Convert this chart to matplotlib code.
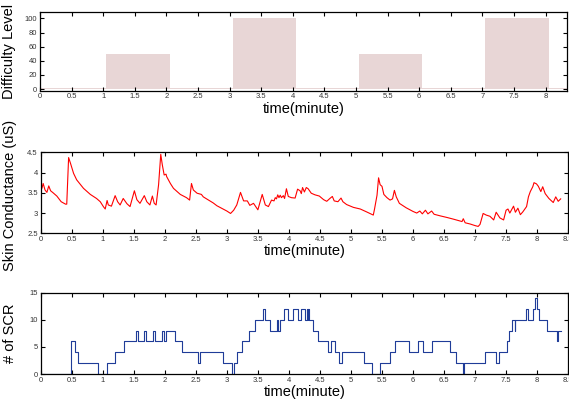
import matplotlib
matplotlib.use("Agg")
import matplotlib.pyplot as plt

plt.rcParams['font.family'] = ['Liberation Sans', 'DejaVu Sans']

# difficulty level (step edges in minutes, level per segment)
diff_edges = [0, 1.05, 2.05, 3.05, 4.05, 5.05, 6.05, 7.05, 8.05, 8.34]
diff_levels = [2, 50, 2, 100, 2, 50, 2, 100, 2]

# skin conductance (uS)
sc_t = [0.00, 0.02, 0.04, 0.07, 0.10, 0.13, 0.16, 0.20, 0.26, 0.33, 0.40, 0.42, 0.43, 0.45,
        0.48, 0.53, 0.58, 0.69, 0.80, 0.90, 0.96, 1.01, 1.04, 1.07, 1.09, 1.14, 1.20, 1.24,
        1.28, 1.33, 1.39, 1.44, 1.51, 1.55, 1.60, 1.67, 1.71, 1.76, 1.80, 1.83, 1.86, 1.90,
        1.935, 1.96, 1.99, 2.02, 2.03, 2.09, 2.14, 2.25, 2.35, 2.40, 2.43, 2.46, 2.52, 2.59,
        2.62, 2.78, 2.84, 3.00, 3.06, 3.11, 3.16, 3.22, 3.27, 3.33, 3.37, 3.43, 3.50, 3.57,
        3.62, 3.67, 3.72, 3.76, 3.78, 3.80, 3.82, 3.84, 3.86, 3.88, 3.91, 3.93, 3.96, 3.99,
        4.04, 4.10, 4.14, 4.18, 4.20, 4.22, 4.25, 4.28, 4.31, 4.36, 4.42, 4.49, 4.56, 4.61,
        4.66, 4.70, 4.73, 4.79, 4.84, 4.87, 4.93, 5.04, 5.15, 5.25, 5.33, 5.36, 5.38, 5.42,
        5.445, 5.47, 5.50, 5.53, 5.58, 5.63, 5.67, 5.70, 5.73, 5.78, 5.89, 6.00, 6.06, 6.11,
        6.15, 6.20, 6.24, 6.30, 6.34, 6.44, 6.55, 6.65, 6.79, 6.81, 6.84, 6.92, 7.00, 7.05,
        7.08, 7.13, 7.18, 7.24, 7.30, 7.34, 7.40, 7.46, 7.50, 7.53, 7.56, 7.62, 7.65, 7.69,
        7.73, 7.77, 7.83, 7.86, 7.89, 7.93, 7.95, 7.99, 8.02, 8.06, 8.09, 8.13, 8.19, 8.26,
        8.30, 8.34, 8.38]
sc_v = [3.65, 3.61, 3.73, 3.57, 3.51, 3.67, 3.55, 3.50, 3.42, 3.28, 3.22, 3.22, 3.60, 4.37,
        4.23, 3.98, 3.82, 3.61, 3.46, 3.36, 3.28, 3.16, 3.10, 3.31, 3.20, 3.17, 3.43, 3.28,
        3.20, 3.36, 3.23, 3.16, 3.55, 3.33, 3.24, 3.43, 3.28, 3.20, 3.42, 3.24, 3.20, 3.70,
        4.45, 4.19, 3.94, 3.96, 3.90, 3.73, 3.61, 3.46, 3.38, 3.32, 3.73, 3.57, 3.49, 3.46,
        3.40, 3.25, 3.18, 3.05, 2.99, 3.07, 3.20, 3.51, 3.30, 3.30, 3.19, 3.24, 3.08, 3.46,
        3.20, 3.16, 3.32, 3.30, 3.38, 3.35, 3.45, 3.38, 3.44, 3.38, 3.43, 3.36, 3.60, 3.41,
        3.38, 3.37, 3.59, 3.55, 3.48, 3.63, 3.52, 3.63, 3.60, 3.49, 3.45, 3.42, 3.33, 3.29,
        3.36, 3.41, 3.30, 3.28, 3.37, 3.28, 3.21, 3.14, 3.10, 3.03, 2.97, 2.95, 3.10, 3.44,
        3.87, 3.70, 3.66, 3.46, 3.38, 3.32, 3.35, 3.56, 3.40, 3.24, 3.13, 3.04, 3.00, 3.05,
        2.98, 3.07, 2.98, 3.05, 2.97, 2.93, 2.89, 2.85, 2.79, 2.86, 2.76, 2.73, 2.69, 2.67,
        2.72, 2.99, 2.95, 2.92, 2.83, 3.02, 2.88, 2.83, 3.07, 3.10, 3.00, 3.17, 3.02, 3.12,
        2.96, 3.03, 3.16, 3.40, 3.53, 3.65, 3.75, 3.72, 3.66, 3.53, 3.65, 3.48, 3.36, 3.26,
        3.40, 3.29, 3.35]

# number of SCRs (value holds from each time until the next)
scr_t = [0, 0.49, 0.55, 0.60, 0.93, 1.07, 1.20, 1.34, 1.53, 1.57, 1.67, 1.70, 1.81, 1.84,
         1.96, 1.99, 2.02, 2.17, 2.28, 2.53, 2.57, 2.93, 3.09, 3.12, 3.17, 3.24, 3.36, 3.45,
         3.59, 3.61, 3.69, 3.81, 3.82, 3.86, 3.92, 3.98, 4.07, 4.14, 4.19, 4.26, 4.29, 4.30,
         4.31, 4.32, 4.39, 4.47, 4.63, 4.68, 4.74, 4.80, 4.85, 5.21, 5.34, 5.46, 5.63, 5.71,
         5.94, 6.08, 6.16, 6.30, 6.60, 6.69, 6.80, 6.82, 7.16, 7.33, 7.38, 7.51, 7.55, 7.59,
         7.64, 7.65, 7.82, 7.86, 7.93, 7.97, 8.00, 8.03, 8.16, 8.32, 8.33, 8.38]
scr_n = [0, 6, 4, 2, 0, 2, 4, 6, 8, 6, 8, 6, 8, 6,
         8, 6, 8, 6, 4, 2, 4, 2, 0, 2, 4, 6, 8, 10,
         12, 10, 8, 10, 8, 10, 12, 10, 12, 10, 12, 10, 12, 10,
         12, 10, 8, 6, 4, 6, 4, 2, 4, 2, 0, 2, 4, 6,
         4, 6, 4, 6, 4, 2, 0, 2, 4, 2, 4, 6, 8, 10,
         8, 10, 12, 10, 12, 14, 12, 10, 8, 6, 8, 8]

fig = plt.figure(figsize=(5.69, 4.01), dpi=100)
ax1 = fig.add_axes([0.0703, 0.7743, 0.9262, 0.1958])
ax2 = fig.add_axes([0.0715, 0.4182, 0.927, 0.202])
ax3 = fig.add_axes([0.0715, 0.0673, 0.927, 0.2027])

ax1.fill_between(diff_edges, diff_levels + [diff_levels[-1]], 0, step='post',
                 color='#e8d6d6', linewidth=0)
ax1.set_xlim(0, 8.34)
ax1.set_ylim(-2, 109)
ax1.set_yticks([0, 20, 40, 60, 80, 100])
ax1.set_ylabel('Difficulty Level')

ax2.plot(sc_t, sc_v, color='#ff0000', linewidth=0.8)
ax2.set_xlim(0, 8.5)
ax2.set_ylim(2.5, 4.5)
ax2.set_yticks([2.5, 3, 3.5, 4, 4.5])
ax2.set_ylabel('Skin Conductance (uS)')

ax3.step(scr_t, scr_n, where='post', color='#1f3c98', linewidth=0.8)
ax3.set_xlim(0, 8.5)
ax3.set_ylim(0, 15)
ax3.set_yticks([0, 5, 10, 15])
ax3.set_ylabel('# of SCR')

xt = [0, 0.5, 1, 1.5, 2, 2.5, 3, 3.5, 4, 4.5, 5, 5.5, 6, 6.5, 7, 7.5, 8, 8.5]
for ax in (ax1, ax2, ax3):
    ax.set_xticks([x for x in xt if x <= ax.get_xlim()[1] + 1e-9])
    ax.set_xticklabels(['%g' % x for x in ax.get_xticks()])
    ax.set_yticklabels(['%g' % y for y in ax.get_yticks()])
    ax.tick_params(direction='in', length=3, width=0.8, labelsize=5.5,
                   top=True, right=True, pad=2, labelcolor='#333333')
    for s in ax.spines.values():
        s.set_linewidth(0.9)
    ax.set_xlabel('time(minute)', fontsize=10.5, labelpad=1)
    ax.yaxis.label.set_size(10.5)
    ax.yaxis.set_label_coords(-0.045, 0.5)

ax2.yaxis.set_label_coords(-0.045, 0.47)

fig.savefig('out.png', dpi=100)
